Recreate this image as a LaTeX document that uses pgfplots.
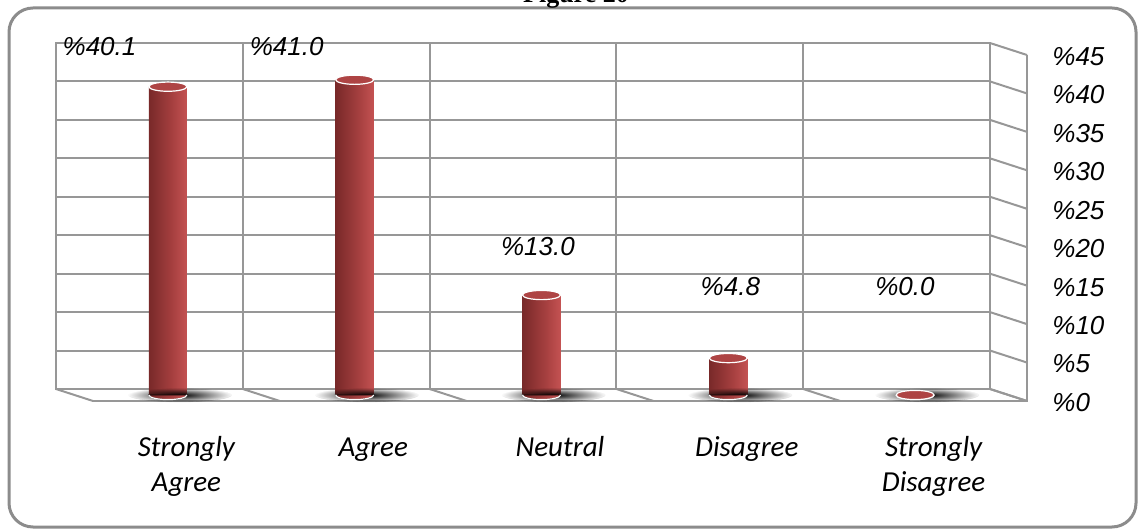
\documentclass[border=0pt]{standalone}
\usepackage{pgfplots}
\pgfplotsset{compat=1.18}
\usepackage{pgfplotstable}
\usepackage{fontspec}
\setmainfont{Liberation Sans}
\newfontfamily\carlito{Carlito}
\newfontfamily\timesfont{Liberation Serif}
\usetikzlibrary{fadings}

\definecolor{gridgray}{HTML}{979797}
\definecolor{framegray}{HTML}{8C8C8C}
\definecolor{cylA}{HTML}{481616}
\definecolor{cylB}{HTML}{6E2424}
\definecolor{cylC}{HTML}{A53F3F}
\definecolor{cylD}{HTML}{CF5959}
\definecolor{cylE}{HTML}{C24E4E}
\definecolor{cyltopc}{HTML}{AE4444}

\pgfdeclarehorizontalshading{cylred}{100bp}{color(0bp)=(cylA); color(18bp)=(cylB); color(55bp)=(cylC); color(82bp)=(cylD); color(100bp)=(cylE)}
\tikzfading[name=shadowfade, inner color=transparent!0, outer color=transparent!100]

% cylinder pieces (explicit units: plain numbers would be read as axis units)
\pgfdeclareplotmark{cyltop}{%
  \filldraw[fill=cyltopc, draw=white, line width=0.6pt] (0pt,0pt) ellipse (9.5pt and 2.3pt);}
\pgfdeclareplotmark{cylbot}{%
  \shade[shading=cylred] (-9.5pt,0pt) arc[start angle=180, end angle=360, x radius=9.5pt, y radius=2.3pt] -- cycle;
  \draw[white, line width=0.6pt] (-9.5pt,0pt) arc[start angle=180, end angle=360, x radius=9.5pt, y radius=2.3pt];}
\pgfdeclareplotmark{cylshadow}{%
  \fill[black, path fading=shadowfade] (6pt,0pt) ellipse (26pt and 3.5pt);}

\pgfplotsset{
  only row/.style={x filter/.expression={\coordindex==#1 ? x : nan}},
  cylshift/.style={xshift=9.25pt, yshift=-3pt},
}

\pgfplotstableread{
x y
0 40.1
1 41.0
2 13.0
3 4.8
4 0.0
}\likert

\begin{document}
\begin{tikzpicture}
\draw[framegray, line width=1.5pt, rounded corners=12pt] (4.5pt,1pt) rectangle (568pt,260.5pt);
\node[anchor=base, font=\timesfont\bfseries\fontsize{13}{15}\selectfont] at (288pt,263pt) {Figure 20};
\begin{axis}[
  at={(28pt,70pt)}, anchor=south west,
  scale only axis, width=467pt, height=173pt,
  xmin=-0.5, xmax=4.5, ymin=0, ymax=45,
  clip=false,
  axis line style={draw=gridgray, line width=1pt},
  xtick={0,...,4},
  xticklabels={{Strongly\\Agree},{\vphantom{l}Agree},{Neutral},{\vphantom{l}Disagree},{Strongly\\Disagree}},
  minor xtick={-0.5,0.5,...,4.5},
  xminorgrids=true, xmajorgrids=false,
  ytick={0,5,...,45},
  yticklabels={\%0,\%5,\%10,\%15,\%20,\%25,\%30,\%35,\%40,\%45},
  ymajorgrids=true,
  grid style={draw=gridgray, line width=1pt},
  minor grid style={draw=gridgray, line width=1pt},
  major tick length=0pt, minor tick length=0pt,
  yticklabel pos=right,
  yticklabel style={anchor=west, inner sep=0pt, xshift=31pt, yshift=-6.75pt, font=\fontsize{13}{15}\selectfont\itshape},
  xticklabel style={anchor=north, align=center, inner sep=0pt, xshift=18.5pt, yshift=-23.6pt, font=\carlito\itshape\fontsize{14.5}{17.5}\selectfont},
]
% side wall and floor in perspective
\pgfplotsinvokeforeach{0,5,...,45}{\draw[gridgray, line width=1pt] (axis cs:4.5,#1) -- ++(18.5pt,-6pt);}
\pgfplotsinvokeforeach{-0.5,0.5,...,4.5}{\draw[gridgray, line width=1pt] (axis cs:#1,0) -- ++(18.5pt,-6pt);}
\draw[gridgray, line width=1pt] ([shift={(18.5pt,-6pt)}]axis cs:-0.5,0) -- ([shift={(18.5pt,-6pt)}]axis cs:4.5,0) -- ([shift={(18.5pt,-6pt)}]axis cs:4.5,45);

% cylinders: shadow, body (one path per bar so each gets its own shading), base rim, top
\addplot[only marks, mark=cylshadow, cylshift] coordinates {(0,0) (1,0) (2,0) (3,0) (4,0)};
\pgfplotsinvokeforeach{0,...,4}{
  \addplot[ybar, bar width=19pt, bar shift=0pt, draw=none, shade, shading=cylred, cylshift, only row=#1] table[x=x, y=y] {\likert};
}
\addplot[only marks, mark=cylbot, cylshift] coordinates {(0,0) (1,0) (2,0) (3,0) (4,0)};
\addplot[only marks, mark=cyltop, cylshift] table[x=x, y=y] {\likert};

% value labels
\begin{scope}[every node/.style={font=\fontsize{13}{15}\selectfont\itshape, anchor=center, inner sep=0pt}]
\node at (axis cs:-0.267,44.48) {\%40.1};
\node at (axis cs:0.735,44.48) {\%41.0};
\node at (axis cs:2.080,18.47) {\%13.0};
\node at (axis cs:3.110,13.27) {\%4.8};
\node at (axis cs:4.045,13.27) {\%0.0};
\end{scope}
\end{axis}
\pgfresetboundingbox
\path[use as bounding box] (0,0) rectangle (569pt,264.5pt);
\end{tikzpicture}
\end{document}
